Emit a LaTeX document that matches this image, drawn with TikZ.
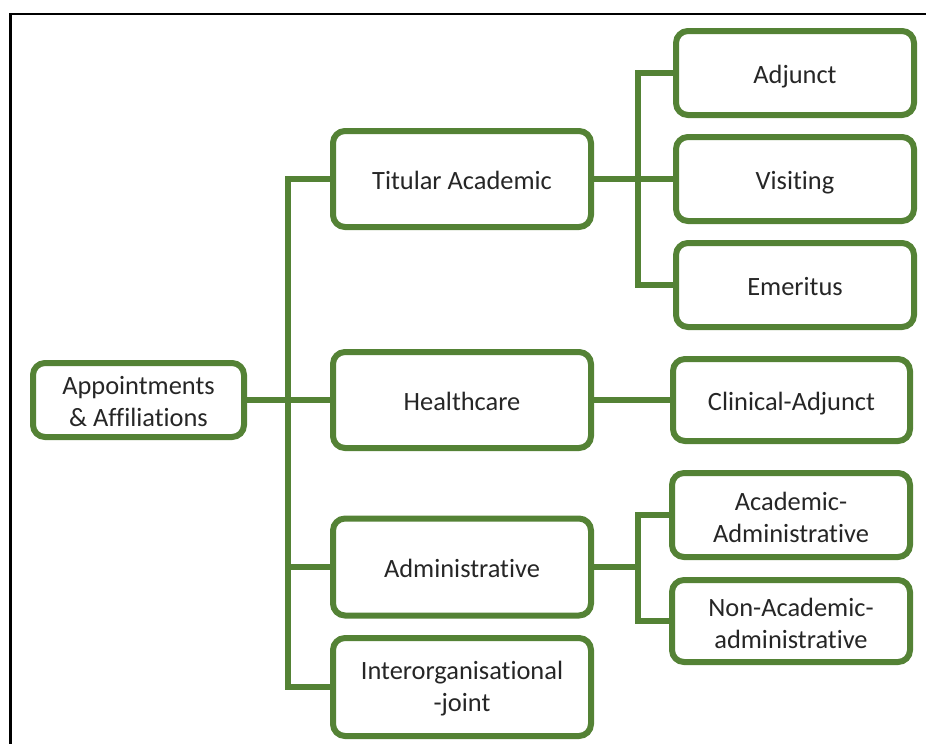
\documentclass[tikz,border=0pt]{standalone}
\usepackage{fontspec}
\setmainfont{Carlito}[Ligatures={NoCommon,NoContextual,NoRare},Contextuals=NoAlternate]
\definecolor{leaf}{RGB}{84,130,53}
\definecolor{ink}{RGB}{38,38,38}
\begin{document}
\begin{tikzpicture}[x=1pt,y=-1pt,
  box/.style={draw=leaf, line width=6pt, rounded corners=12pt, fill=white,
    inner sep=0pt, outer sep=0pt, align=center, text=ink,
    font=\fontsize{26.4}{32}\selectfont},
  one/.style={text height=20pt, text depth=0pt},
  twotext/.style={align=center, text=ink, inner sep=0pt,
    font=\fontsize{26.4}{32}\selectfont, yshift=-2pt},
  mid/.style={box, minimum width=258pt, minimum height=96pt},
  leafbox/.style={box, minimum width=238pt, minimum height=84pt},
  link/.style={draw=leaf, line width=6pt}]
\useasboundingbox (0,0) rectangle (926,744);
% frame (top and left edges)
\draw[line width=2.6pt, black] (10.3,750) -- (10.3,14) -- (930,14);

\node[box, minimum width=211pt, minimum height=74pt] (app) at (138.5,400) {};
\node[twotext] (tapp) at (app.center) {Appointments\\\& Affiliations};
\node[mid, one] (tit) at (462,179) {Titular Academic};
\node[mid, one] (hea) at (462,400) {Healthcare};
\node[mid, one, minimum height=97pt] (adm) at (462,567) {Administrative};
\node[mid, minimum height=98pt] (int) at (462,687) {};
\node[twotext] (tint) at (int.center) {Interorganisational\\-joint};

\node[leafbox, one] (adj) at (795,73) {Adjunct};
\node[leafbox, one] (vis) at (795,179) {Visiting};
\node[leafbox, one] (eme) at (795,285) {Emeritus};
\node[leafbox, one, minimum width=237pt, minimum height=82pt] (cli) at (791.5,400) {Clinical-Adjunct};
\node[leafbox] (aca) at (791,515) {};
\node[twotext] (taca) at (aca.center) {Academic-\\Administrative};
\node[leafbox, minimum height=82pt] (non) at (791,621) {};
\node[twotext] (tnon) at (non.center) {Non-Academic-\\administrative};

\coordinate (la) at (288,0);
\coordinate (ra) at (638,0);
\coordinate (rb) at (637.5,0);

% left trunk
\draw[link] (tit.west) -- (tit.west -| la) -- (int.west -| la) -- (int.west);
\draw[link] (app.east) -- (hea.west);
\draw[link] (adm.west -| la) -- (adm.west);

% titular branches
\draw[link] (adj.west) -- (adj.west -| ra) -- (eme.west -| ra) -- (eme.west);
\draw[link] (tit.east) -- (vis.west);

% healthcare branch
\draw[link] (hea.east) -- (cli.west);

% administrative branches
\draw[link] (aca.west) -- (aca.west -| rb) -- (non.west -| rb) -- (non.west);
\draw[link] (adm.east) -- (adm.east -| rb);
\end{tikzpicture}
\end{document}
